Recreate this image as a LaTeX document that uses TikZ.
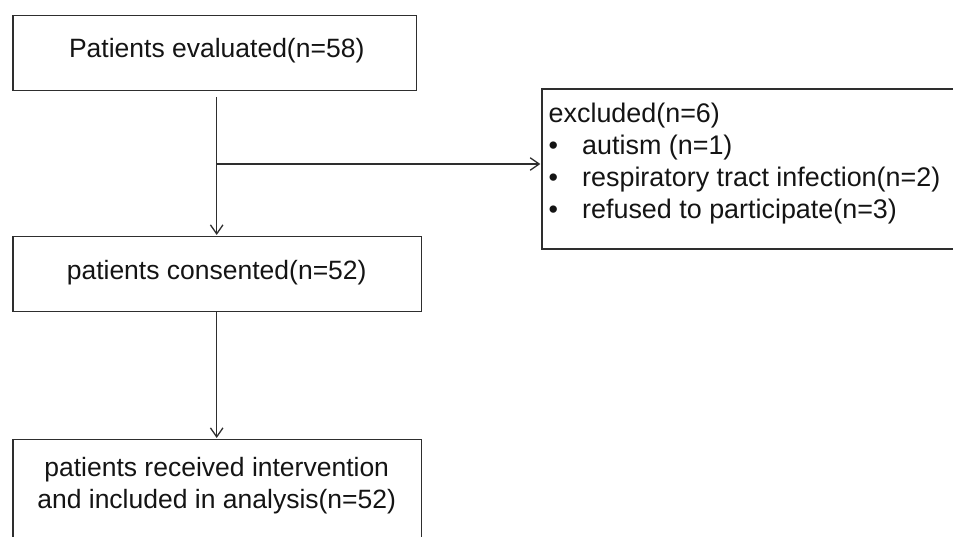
\documentclass[tikz,border=0pt]{standalone}
\usepackage{fontspec}
\setmainfont{Liberation Sans}
\usetikzlibrary{arrows.meta}
\begin{document}
\begin{tikzpicture}[x=1pt,y=-1pt,
  box/.style={draw=black!82, line width=1.3pt, rectangle, inner sep=0pt, anchor=north west},
  lbl/.style={font=\fontsize{26.5}{32}\selectfont, text=black!92, inner sep=0pt},
  elbl/.style={lbl, font=\fontsize{26.9}{32}\selectfont, anchor=base west},
  conn/.style={draw=black!82, line width=1.3pt},
  arr/.style={conn, -{Straight Barb[length=9pt,width=12.5pt]}}]
\useasboundingbox (0,0) rectangle (953,537);
% boxes
\node[box, minimum width=403.4pt, minimum height=75pt] (b1) at (12.3,15) {};
\node[box, minimum width=408.7pt, minimum height=75pt] (b2) at (12.3,236) {};
\node[box, minimum width=408.7pt, minimum height=112pt] (b3) at (12.3,439) {};
\node[box, minimum width=420pt, minimum height=160pt] (excl) at (541.3,88.3) {};
% texts
\node[lbl, anchor=base] (t1) at (216.7,57.3) {Patients evaluated(n=58)};
\node[lbl, anchor=base] (t2) at (216.7,280) {patients consented(n=52)};
\node[lbl, anchor=base] (t3a) at (216.7,476.7) {patients received intervention};
\node[lbl, anchor=base] (t3b) at (216.7,508.3) {and included in analysis(n=52)};
\node[elbl] (e0) at (548.5,122.5) {excluded(n=6)};
\node[elbl] (e1) at (548.5,154.8) {\makebox[33.5pt][l]{•}autism (n=1)};
\node[elbl] (e2) at (548.5,186.8) {\makebox[33.5pt][l]{•}respiratory tract infection(n=2)};
\node[elbl] (e3) at (548.5,218.3) {\makebox[33.5pt][l]{•}refused to participate(n=3)};
% connectors
\coordinate (br) at (216.7,164);
\draw[arr, shorten <=5.7pt, shorten >=1pt] (b1.south -| br) -- (b2.north -| br);
\draw[arr, shorten >=1pt] (br) -- (br -| excl.west);
\draw[arr, shorten >=1pt] (b2.south -| br) -- (b3.north -| br);
\end{tikzpicture}
\end{document}
